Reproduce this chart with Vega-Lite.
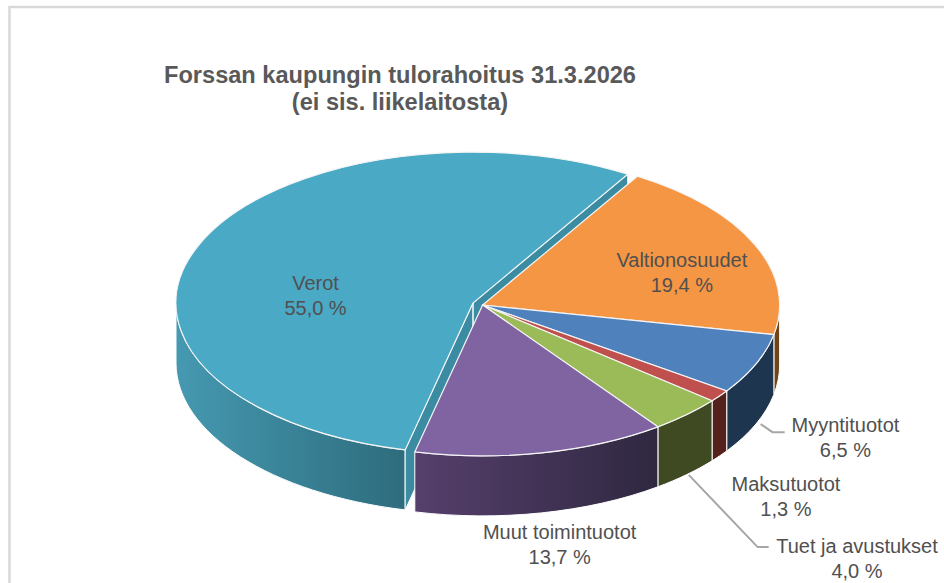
{
"$schema":"https://vega.github.io/schema/vega-lite/v6.json",
"width":944,"height":583,"padding":0,
"autosize":{"type":"none"},
"background":"white",
"view":{"stroke":null},
"title":{"text":["Forssan kaupungin tulorahoitus 31.3.2026","(ei sis. liikelaitosta)"],"anchor":"start","frame":"bounds","orient":"none","font":"Liberation Sans","fontSize":23.6,"fontWeight":"bold","color":"#595959","lineHeight":27,"align":"center","baseline":"middle","dx":400,"dy":76,"offset":0},
"data":{"values":[
{"nimi":"Valtionosuudet","osuus":19.4,"jarjestys":1},
{"nimi":"Myyntituotot","osuus":6.5,"jarjestys":2},
{"nimi":"Maksutuotot","osuus":1.3,"jarjestys":3},
{"nimi":"Tuet ja avustukset","osuus":4.0,"jarjestys":4},
{"nimi":"Muut toimintuotot","osuus":13.7,"jarjestys":5},
{"nimi":"Verot","osuus":55.0,"jarjestys":6}
]},
"transform":[
{"window":[{"op":"sum","field":"osuus","as":"v1"}],"sort":[{"field":"jarjestys","order":"ascending"}]},
{"calculate":"datum.v1-datum.osuus","as":"v0"},
{"calculate":"31.4+datum.v0*360/99.9","as":"a0"},
{"calculate":"31.4+datum.v1*360/99.9","as":"a1"},
{"calculate":"max(datum.a0,90)","as":"w0"},
{"calculate":"min(datum.a1,270)","as":"w1"},
{"calculate":"(datum.a0+datum.a1)/2*PI/180","as":"mid"},
{"calculate":"datum.nimi=='Verot'?0.035:0","as":"irti"},
{"calculate":"datum.irti*sin(datum.mid)","as":"cx"},
{"calculate":"-datum.irti*0.508*cos(datum.mid)","as":"cy"},
{"calculate":"sin(datum.a0*PI/180)+','+(-0.508*cos(datum.a0*PI/180))","as":"p0"},
{"calculate":"sin(datum.a1*PI/180)+','+(-0.508*cos(datum.a1*PI/180))","as":"p1"},
{"calculate":"sin(datum.a0*PI/180)+','+(0.202-0.508*cos(datum.a0*PI/180))","as":"p0d"},
{"calculate":"sin(datum.a1*PI/180)+','+(0.202-0.508*cos(datum.a1*PI/180))","as":"p1d"},
{"calculate":"'M0,0L'+datum.p0+'A1,0.508 0 '+(datum.a1-datum.a0>180?1:0)+' 1 '+datum.p1+'Z'","as":"kansi"},
{"calculate":"'M'+sin(datum.w0*PI/180)+','+(-0.508*cos(datum.w0*PI/180))+'A1,0.508 0 0 1 '+sin(datum.w1*PI/180)+','+(-0.508*cos(datum.w1*PI/180))+'L'+sin(datum.w1*PI/180)+','+(0.202-0.508*cos(datum.w1*PI/180))+'A1,0.508 0 0 0 '+sin(datum.w0*PI/180)+','+(0.202-0.508*cos(datum.w0*PI/180))+'Z'","as":"seina"},
{"calculate":"'M0,0L'+datum.p0+'L'+datum.p0d+'L0,0.202Z M0,0L'+datum.p1+'L'+datum.p1d+'L0,0.202Z'","as":"leikkaus"},
{"calculate":"{'Myyntituotot':'M0.936,0.401L0.976,0.428L1.017,0.428','Tuet ja avustukset':'M0.694,0.572L0.926,0.815L0.963,0.815'}[datum.nimi]||'M0,0'","as":"johto"},
{"calculate":"{'Verot':-0.562,'Valtionosuudet':0.67,'Myyntituotot':1.22,'Maksutuotot':1.02,'Tuet ja avustukset':1.259,'Muut toimintuotot':0.259}[datum.nimi]","as":"lx"},
{"calculate":"{'Verot':-0.071,'Valtionosuudet':-0.148,'Myyntituotot':0.407,'Maksutuotot':0.606,'Tuet ja avustukset':0.815,'Muut toimintuotot':0.768}[datum.nimi]","as":"ly"},
{"calculate":"datum.nimi+'\\n'+replace(format(datum.osuus,'.1f'),'.',',')+' %'","as":"teksti"}
],
"encoding":{
"x":{"field":"cx","type":"quantitative","scale":{"domain":[-1.623,1.5515],"nice":false,"zero":false},"axis":null},
"y":{"field":"cy","type":"quantitative","scale":{"domain":[-1.027,0.936],"nice":false,"zero":false,"reverse":true},"axis":null}
},
"layer":[
{"transform":[{"filter":"datum.nimi=='Valtionosuudet'"}],
 "mark":{"type":"point","filled":false,"size":352836,"opacity":1,"stroke":"#d9d9d9","strokeWidth":2.5},
 "encoding":{"x":{"datum":0},"y":{"datum":0},"shape":{"value":"M-1.593,0.94L-1.593,-1.003L1.56,-1.003"}}},
{"transform":[{"filter":"datum.nimi=='Myyntituotot'||datum.nimi=='Tuet ja avustukset'"}],
 "mark":{"type":"point","filled":false,"size":352836,"opacity":1,"stroke":"#a6a6a6","strokeWidth":2},
 "encoding":{"shape":{"field":"johto","type":"nominal","scale":null,"legend":null}}},
{"transform":[{"filter":"datum.nimi=='Verot'"}],
 "mark":{"type":"point","filled":true,"size":352836,"opacity":1,"stroke":"white","strokeWidth":1,"fill":{"gradient":"linear","x1":0,"x2":1,"y1":0,"y2":0,"stops":[{"offset":0,"color":"#4599b1"},{"offset":1,"color":"#2e6c7d"}]}},
 "encoding":{"shape":{"field":"seina","type":"nominal","scale":null,"legend":null}}},
{"transform":[{"filter":"datum.nimi=='Verot'"}],
 "mark":{"type":"point","filled":true,"size":352836,"opacity":1,"stroke":"white","strokeWidth":1,"fill":"#3b8ba3"},
 "encoding":{"shape":{"field":"leikkaus","type":"nominal","scale":null,"legend":null}}},
{"transform":[{"filter":"datum.nimi=='Valtionosuudet'"}],
 "mark":{"type":"point","filled":true,"size":352836,"opacity":1,"stroke":"white","strokeWidth":1,"fill":"#6e4418"},
 "encoding":{"shape":{"field":"seina","type":"nominal","scale":null,"legend":null}}},
{"transform":[{"filter":"datum.nimi=='Myyntituotot'"}],
 "mark":{"type":"point","filled":true,"size":352836,"opacity":1,"stroke":"white","strokeWidth":1,"fill":"#1e3550"},
 "encoding":{"shape":{"field":"seina","type":"nominal","scale":null,"legend":null}}},
{"transform":[{"filter":"datum.nimi=='Maksutuotot'"}],
 "mark":{"type":"point","filled":true,"size":352836,"opacity":1,"stroke":"white","strokeWidth":1,"fill":"#55211d"},
 "encoding":{"shape":{"field":"seina","type":"nominal","scale":null,"legend":null}}},
{"transform":[{"filter":"datum.nimi=='Tuet ja avustukset'"}],
 "mark":{"type":"point","filled":true,"size":352836,"opacity":1,"stroke":"white","strokeWidth":1,"fill":"#3f4a22"},
 "encoding":{"shape":{"field":"seina","type":"nominal","scale":null,"legend":null}}},
{"transform":[{"filter":"datum.nimi=='Muut toimintuotot'"}],
 "mark":{"type":"point","filled":true,"size":352836,"opacity":1,"stroke":"white","strokeWidth":1,"fill":{"gradient":"linear","x1":0,"x2":1,"y1":0,"y2":0,"stops":[{"offset":0,"color":"#563f6c"},{"offset":1,"color":"#2f2840"}]}},
 "encoding":{"shape":{"field":"seina","type":"nominal","scale":null,"legend":null}}},
{"mark":{"type":"point","filled":true,"size":352836,"opacity":1,"stroke":"#f4f4f4","strokeWidth":1.2},
 "encoding":{
  "shape":{"field":"kansi","type":"nominal","scale":null,"legend":null},
  "fill":{"field":"nimi","type":"nominal","legend":null,"scale":{"domain":["Verot","Valtionosuudet","Myyntituotot","Maksutuotot","Tuet ja avustukset","Muut toimintuotot"],"range":["#4aa9c4","#f59644","#4f81bd","#c0504d","#9bbb59","#8064a2"]}},
  "order":{"field":"jarjestys","type":"quantitative"}}},
{"mark":{"type":"text","font":"Liberation Sans","fontSize":20,"color":"#505050","align":"center","baseline":"middle","lineBreak":"\n","lineHeight":25},
 "encoding":{
  "x":{"field":"lx","type":"quantitative"},
  "y":{"field":"ly","type":"quantitative"},
  "text":{"field":"teksti","type":"nominal"}}}
]
}
